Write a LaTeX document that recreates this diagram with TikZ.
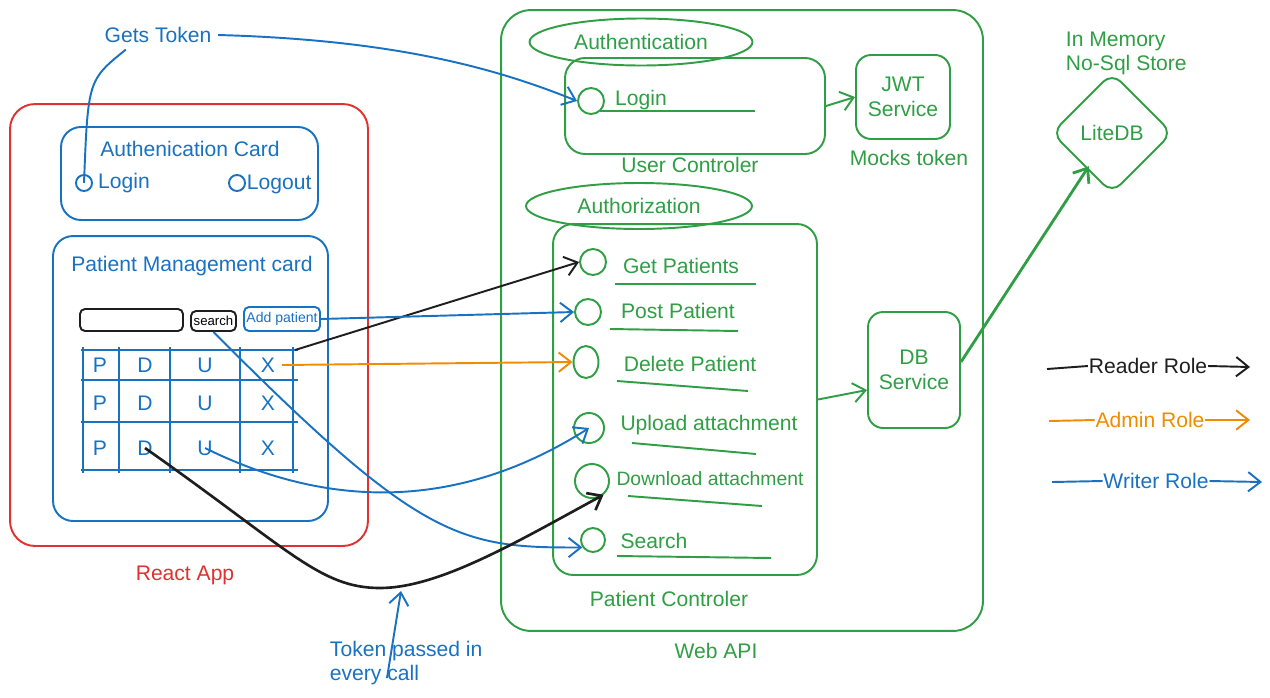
\documentclass[tikz,border=0pt]{standalone}
\usepackage{fontspec}
\setmainfont{Liberation Sans}
\usetikzlibrary{arrows.meta,shapes.geometric}
\definecolor{exblue}{HTML}{1971C2}
\definecolor{exgreen}{HTML}{2F9E44}
\definecolor{exred}{HTML}{E03131}
\definecolor{exorange}{HTML}{F08C00}
\definecolor{exblack}{HTML}{1E1E1E}

\begin{document}
\begin{tikzpicture}[x=0.02cm,y=-0.02cm,line width=1.1pt,>={Straight Barb[length=7pt,width=11pt]}]
    \tikzstyle{every node}=[font=\fontsize{12}{14}\selectfont]
    \tikzstyle{card}=[draw,rounded corners=0.4cm,inner sep=0pt]
    \tikzstyle{ep}=[draw=exgreen,circle,inner sep=0pt]
    \tikzstyle{btn}=[draw,rounded corners=0.1cm,inner sep=1pt]

    \useasboundingbox (0,0) rectangle (1270,697);

    \node[card,draw=exred,rounded corners=0.5cm,minimum width=7.16cm,minimum height=8.84cm] (reactapp) at (189,325) {};
    \node[exred] (reactlbl) at (185,575) {React App};

    \node[card,draw=exblue,minimum width=5.14cm,minimum height=1.86cm] (authcard) at (189.5,173.5) {};
    \node[exblue] (authcardlbl) at (190,149) {Authenication Card};
    \node[ep,draw=exblue,minimum size=0.32cm] (loginbtn) at (84,183) {};
    \node[exblue] (loginlbl) at (124,183) {Login};
    \node[ep,draw=exblue,minimum size=0.32cm] (logoutbtn) at (237,183) {};
    \node[exblue,anchor=west,inner sep=0pt] (logoutlbl) at (246,184) {Logout};

    \node[card,draw=exblue,minimum width=5.5cm,minimum height=5.7cm] (patcard) at (190.5,378.5) {};
    \node[exblue] (patcardlbl) at (192,266) {Patient Management card};
    \node[btn,draw=exblack,minimum width=2.06cm,minimum height=0.44cm] (searchbox) at (131.5,320) {};
    \node[btn,draw=exblack,minimum width=0.9cm,minimum height=0.4cm,font=\fontsize{7.5}{9}\selectfont] (searchbtn) at (213.5,321) {search};
    \node[btn,draw=exblue,text=exblue,minimum width=1.52cm,minimum height=0.48cm,font=\fontsize{8}{10}\selectfont] (addbtn) at (282,319) {Add patient};

    \foreach \y in {350,380,422,470}
        \draw[exblue] (81,\y) -- (298,\y);
    \foreach \x in {83,119,170,240,293}
        \draw[exblue] (\x,347) -- (\x,473);
    \foreach \r/\y in {1/365,2/403,3/448} {
        \node[exblue] (p\r) at (100,\y) {P};
        \node[exblue] (d\r) at (145,\y) {D};
        \node[exblue] (u\r) at (205,\y) {U};
        \node[exblue] (x\r) at (268,\y) {X};
    }
    \coordinate (tabtop) at (295,350);

    \node[card,draw=exgreen,rounded corners=0.6cm,minimum width=9.64cm,minimum height=12.42cm] (webapi) at (742,320.5) {};
    \node[exgreen] (webapilbl) at (716,651) {Web API};

    \node[ellipse,draw=exgreen,text=exgreen,minimum width=4.46cm,minimum height=0.94cm,inner sep=0pt] (authn) at (641,42) {Authentication};
    \node[card,draw=exgreen,minimum width=5.2cm,minimum height=1.92cm] (userctl) at (695,106) {};
    \node[exgreen] (userctllbl) at (690,165) {User Controler};
    \node[ep,minimum size=0.52cm] (loginep) at (591,101) {};
    \node[exgreen] (logineplbl) at (641,100) {Login};
    \draw[exgreen] (600,111) -- (755,111);

    \node[card,draw=exgreen,rounded corners=0.3cm,minimum width=1.88cm,minimum height=1.68cm,align=center,text=exgreen] (jwt) at (903,97) {JWT\\Service};
    \node[exgreen] (jwtlbl) at (909,158) {Mocks token};

    \node[ellipse,draw=exgreen,text=exgreen,minimum width=4.52cm,minimum height=0.92cm,inner sep=0pt] (authz) at (639,206) {Authorization};
    \node[card,draw=exgreen,minimum width=5.28cm,minimum height=7.02cm] (patctl) at (685,399.5) {};
    \node[exgreen] (patctllbl) at (669,599) {Patient Controler};

    \node[ep,minimum size=0.52cm] (getp) at (593,262) {};
    \node[exgreen] (getplbl) at (681,266) {Get Patients};
    \draw[exgreen] (615,284) -- (756,284);

    \node[ep,minimum size=0.52cm] (postp) at (588,312) {};
    \node[exgreen] (postplbl) at (678,311) {Post Patient};
    \draw[exgreen] (610,329) -- (738,331);

    \node[ellipse,draw=exgreen,minimum width=0.5cm,minimum height=0.64cm,inner sep=0pt] (delp) at (586,362) {};
    \node[exgreen] (delplbl) at (690,364) {Delete Patient};
    \draw[exgreen] (617,381) -- (748,391);

    \node[ep,minimum size=0.6cm] (upl) at (589,428) {};
    \node[exgreen] (upllbl) at (709,425) {Upload attachment};
    \draw[exgreen] (632,443) -- (756,454);

    \node[ep,minimum size=0.68cm] (dnl) at (592,481) {};
    \node[exgreen,font=\fontsize{11}{13}\selectfont] (dnllbl) at (710,479) {Download attachment};
    \draw[exgreen] (628,496) -- (762,506);

    \node[ep,minimum size=0.48cm] (srch) at (593,540) {};
    \node[exgreen] (srchlbl) at (654,541) {Search};
    \draw[exgreen] (617,556) -- (771,558);

    \node[card,draw=exgreen,rounded corners=0.3cm,minimum width=1.84cm,minimum height=2.32cm,align=center,text=exgreen] (dbsvc) at (914,370) {DB\\Service};

    \node[diamond,draw=exgreen,text=exgreen,rounded corners=0.25cm,minimum width=2.42cm,minimum height=2.42cm,inner sep=0pt] (litedb) at (1112,133) {LiteDB};
    \node[exgreen,align=left,anchor=west,inner sep=0pt,font=\fontsize{12}{13.6}\selectfont] (memlbl) at (1065,53) {In Memory\\No-Sql Store};

    \node[exblue] (gets) at (158,35) {Gets Token};
    \node[exblue,align=left,anchor=west,inner sep=0pt] (tokentxt) at (329,663) {Token passed in\\every call};
    \coordinate (tokenfrom) at (387,678);
    \coordinate (tokento) at (401,591);

    \draw[exgreen,->] (userctl.east) -- (jwt.west);

    \draw[exgreen,->] (patctl.east) -- ([yshift=-0.4cm]dbsvc.west);

    \draw[exgreen,->,line width=1.6pt] ([yshift=0.16cm]dbsvc.east) -- ([xshift=0.15cm,yshift=-0.05cm]litedb.south west);

    \draw[exblue] (loginbtn.center) .. controls (88,80) .. ([xshift=0.56cm]gets.south west);

    \draw[exblue,->] (gets.east) .. controls (400,40) and (500,70) .. (loginep.west);

    \draw[exblack,->] (tabtop) -- (getp.west);

    \draw[exblue,->] (addbtn.east) -- (postp.west);

    \draw[exorange,->] (x1.east) -- (delp.west);

    \draw[exblue,->] (searchbtn.south) .. controls (420,540) and (460,548) .. (srch.-145);

    \draw[exblue,->] (u3.center) .. controls (330,510) and (460,510) .. (upl.center);

    \draw[exblack,->,line width=1.5pt] (d3.center) .. controls (290,550) and (320,588) .. (380,588) .. controls (440,588) and (520,540) .. (dnl.-50);

    \draw[exblue,->] (tokenfrom) -- (tokento);

    \node[exblack,inner sep=0pt] (rdr) at (1148,366) {Reader Role};
    \coordinate (rdrfrom) at (1047,369);
    \coordinate (rdrto) at (1250,367);
    \draw[exblack] (rdrfrom) -- (rdr.west);
    \draw[exblack,->] (rdr.east) -- (rdrto);

    \node[exorange,inner sep=0pt] (adm) at (1150,420) {Admin Role};
    \coordinate (admfrom) at (1049,421);
    \coordinate (admto) at (1250,420);
    \draw[exorange] (admfrom) -- (adm.west);
    \draw[exorange,->] (adm.east) -- (admto);

    \node[exblue,inner sep=0pt] (wrt) at (1156,481) {Writer Role};
    \coordinate (wrtfrom) at (1052,482);
    \coordinate (wrtto) at (1262,482);
    \draw[exblue] (wrtfrom) -- (wrt.west);
    \draw[exblue,->] (wrt.east) -- (wrtto);
\end{tikzpicture}
\end{document}
